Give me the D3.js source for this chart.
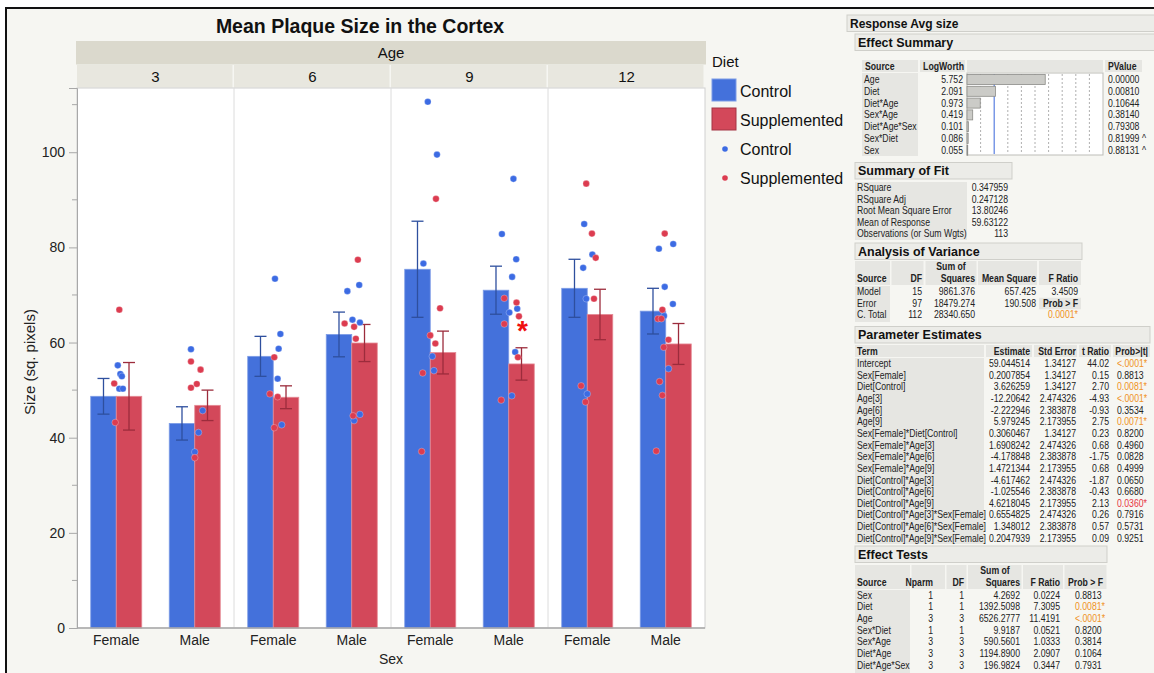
<!DOCTYPE html>
<html>
<head>
<meta charset="utf-8">
<script src="https://cdn.jsdelivr.net/npm/d3@7"></script>
<style>
  body { margin: 0; background: #fff; }
  svg { display: block; font-family: "Liberation Sans", Arial, sans-serif; }
  .tbl { font-family: "Liberation Sans", Arial, sans-serif; font-size: 10.5px; fill: #222; }
</style>
</head>
<body>
<div id="viz-container"></div>
<script>
// ---- chart data ----
let ages = ["3", "6", "9", "12"];
let sexes = ["Female", "Male"];
let diets = ["Control", "Supplemented"];

// group order: 3F, 3M, 6F, 6M, 9F, 9M, 12F, 12M
let controlMeans = [48.7, 43.0, 57.1, 61.7, 75.4, 71.0, 71.4, 66.6];
let controlSE = [3.75, 3.5, 4.2, 4.7, 10.1, 5.05, 6.1, 4.8];
let supplementedMeans = [48.7, 46.8, 48.5, 59.9, 57.9, 55.5, 65.9, 59.7];
let supplementedSE = [7.1, 3.2, 2.4, 3.9, 4.5, 3.4, 5.3, 4.3];

// individual points: [age, sex, value, jitter]
let controlPoints = [
  ["3","Female",55.2,1.5],["3","Female",53.4,4],["3","Female",52.9,5.5],["3","Female",50.3,3],["3","Female",50.3,6.5],
  ["3","Male",58.6,-3.7],["3","Male",45.7,7.7],["3","Male",41.1,3.7],["3","Male",37.0,0],
  ["6","Female",73.4,1.7],["6","Female",61.8,7],["6","Female",58.7,5.3],["6","Female",52.4,4.3],["6","Female",42.7,8.3],
  ["6","Male",72.1,7.3],["6","Male",70.8,-4.3],["6","Male",64.8,0.7],["6","Male",64.2,8],["6","Male",44.9,8],["6","Male",43.6,2.3],
  ["9","Female",110.6,-2.4],["9","Female",99.5,6.6],["9","Female",76.6,-6.7],["9","Female",57.1,2],["9","Female",54.1,3.6],
  ["9","Male",94.4,4.6],["9","Male",82.8,-6.7],["9","Male",77.5,7.3],["9","Male",73.8,3.3],["9","Male",67.1,8.3],["9","Male",66.3,0.6],["9","Male",58.0,6.3],["9","Male",48.8,3],
  ["12","Female",84.9,-3],["12","Female",78.5,5],["12","Female",75.7,-4],["12","Female",69.2,-1],["12","Female",49.2,0],
  ["12","Male",79.7,-6.7],["12","Male",80.7,7.3],["12","Male",71.7,-1],["12","Male",68.1,7],["12","Male",65.6,-1.7],["12","Male",54.5,2.7]
];
let supplementedPoints = [
  ["3","Female",66.9,3],["3","Female",51.4,-2],["3","Female",43.2,-1],
  ["3","Male",56.0,-3.7],["3","Male",54.3,5.7],["3","Male",51.3,2],["3","Male",50.5,-3.7],["3","Male",35.8,0],
  ["6","Female",56.9,1],["6","Female",49.2,-3.3],["6","Female",48.6,4.3],["6","Female",42.1,1],
  ["6","Male",77.4,6],["6","Male",64.0,-7],["6","Male",63.3,2.3],["6","Male",60.8,4],["6","Male",44.6,1.3],
  ["9","Female",90.2,5.6],["9","Female",67.2,9.6],["9","Female",61.5,0],["9","Female",59.8,5],["9","Female",53.6,-7.4],["9","Female",37.1,-8.4],
  ["9","Male",69.3,-4.4],["9","Male",68.4,7.6],["9","Male",65.5,10],["9","Male",63.9,-4.4],["9","Male",56.9,9],["9","Male",47.9,-7.4],
  ["12","Female",93.4,-1],["12","Female",82.9,4.6],["12","Female",77.8,8.3],["12","Female",69.2,6.6],["12","Female",50.9,-6],["12","Female",47.5,-1.7],
  ["12","Male",82.9,-1],["12","Male",66.9,-3.3],["12","Male",65.0,-7.7],["12","Male",65.0,-4.3],["12","Male",60.6,2.7],["12","Male",59.0,-2],["12","Male",51.8,-6],["12","Male",48.9,-3.3],["12","Male",37.2,-9.3]
];
let yTicks = [0, 20, 40, 60, 80, 100];
let yMinorTicks = [10, 30, 50, 70, 90, 110];
// significance mark: [age, sex, diet, value]
let starMark = ["9", "Male", "Supplemented", 62.7];

// ---- report data ----
let effectSources = ["Age", "Diet", "Diet*Age", "Sex*Age", "Diet*Age*Sex", "Sex*Diet", "Sex"];
let logWorth = [5.752, 2.091, 0.973, 0.419, 0.101, 0.086, 0.055];
let effectP = ["0.00000", "0.00810", "0.10644", "0.38140", "0.79308", "0.81999", "0.88131"];
let effectCaret = ["", "", "", "", "", "^", "^"];

let fitLabels = ["RSquare", "RSquare Adj", "Root Mean Square Error", "Mean of Response", "Observations (or Sum Wgts)"];
let fitValues = ["0.347959", "0.247128", "13.80246", "59.63122", "113"];

let anovaSource = ["Model", "Error", "C. Total"];
let anovaDF = ["15", "97", "112"];
let anovaSS = ["9861.376", "18479.274", "28340.650"];
let anovaMS = ["657.425", "190.508", ""];
let anovaF = ["3.4509", "Prob > F", "0.0001*"];

let paramTerms = ["Intercept", "Sex[Female]", "Diet[Control]", "Age[3]", "Age[6]", "Age[9]",
  "Sex[Female]*Diet[Control]", "Sex[Female]*Age[3]", "Sex[Female]*Age[6]", "Sex[Female]*Age[9]",
  "Diet[Control]*Age[3]", "Diet[Control]*Age[6]", "Diet[Control]*Age[9]",
  "Diet[Control]*Age[3]*Sex[Female]", "Diet[Control]*Age[6]*Sex[Female]", "Diet[Control]*Age[9]*Sex[Female]"];
let paramEst = ["59.044514", "0.2007854", "3.626259", "-12.20642", "-2.222946", "5.979245", "0.3060467", "1.6908242",
  "-4.178848", "1.4721344", "-4.617462", "-1.025546", "4.6218045", "0.6554825", "1.348012", "0.2047939"];
let paramSE = ["1.34127", "1.34127", "1.34127", "2.474326", "2.383878", "2.173955", "1.34127", "2.474326",
  "2.383878", "2.173955", "2.474326", "2.383878", "2.173955", "2.474326", "2.383878", "2.173955"];
let paramT = ["44.02", "0.15", "2.70", "-4.93", "-0.93", "2.75", "0.23", "0.68", "-1.75", "0.68", "-1.87", "-0.43", "2.13", "0.26", "0.57", "0.09"];
let paramP = ["<.0001*", "0.8813", "0.0081*", "<.0001*", "0.3534", "0.0071*", "0.8200", "0.4960",
  "0.0828", "0.4999", "0.0650", "0.6680", "0.0360*", "0.7916", "0.5731", "0.9251"];

let testSource = ["Sex", "Diet", "Age", "Sex*Diet", "Sex*Age", "Diet*Age", "Diet*Age*Sex"];
let testNparm = ["1", "1", "3", "1", "3", "3", "3"];
let testDF = ["1", "1", "3", "1", "3", "3", "3"];
let testSS = ["4.2692", "1392.5098", "6526.2777", "9.9187", "590.5601", "1194.8900", "196.9824"];
let testF = ["0.0224", "7.3095", "11.4191", "0.0521", "1.0333", "2.0907", "0.3447"];
let testP = ["0.8813", "0.0081*", "<.0001*", "0.8200", "0.3814", "0.1064", "0.7931"];

// ---- drawing ----
let W = 1154, H = 673;
let blue = "#4471db", red = "#d3485a";
let dotBlue = "#3c6be3", dotRed = "#dc3c50";

let svg = d3.select("#viz-container").append("svg").attr("width", W).attr("height", H);

// frame + background
svg.append("rect").attr("x", 0).attr("y", 0).attr("width", W).attr("height", H).attr("fill", "#fff");
svg.append("rect").attr("x", 6).attr("y", 8).attr("width", W).attr("height", H)
  .attr("fill", "#f6f6f2").attr("stroke", "#111").attr("stroke-width", 2);

let plotL = 77, plotR = 705, plotT = 88, plotB = 628;

let fx = d3.scaleBand().domain(ages).range([plotL, plotR]);
let xs = d3.scaleBand().domain(sexes).range([0, fx.bandwidth()]);
let half = xs.bandwidth() * 0.325;
let xd = d3.scaleBand().domain(diets).range([-half, half]);
let y = d3.scaleLinear().domain([0, 113.5]).range([plotB, plotT]);
let jit = d3.scaleLinear().domain([-10, 10]).range([-xd.bandwidth() * 0.4, xd.bandwidth() * 0.4]);

function groupCenter(age, sex) {
  return fx(age) + xs(sex) + xs.bandwidth() / 2;
}

// title
svg.append("text").attr("x", (plotL + plotR) / 2 - 31).attr("y", 33)
  .attr("text-anchor", "middle").attr("font-size", 19.5).attr("font-weight", "bold").attr("fill", "#111")
  .text("Mean Plaque Size in the Cortex");

// facet headers
svg.append("rect").attr("x", plotL - 1).attr("y", 41).attr("width", plotR - plotL + 2).attr("height", 23.5)
  .attr("fill", "#dbd9cd");
svg.append("text").attr("x", (plotL + plotR) / 2).attr("y", 58).attr("text-anchor", "middle")
  .attr("font-size", 15).attr("fill", "#111").text("Age");
svg.selectAll(".facetCell").data(ages).enter().append("rect")
  .attr("class", "facetCell")
  .attr("x", d => fx(d))
  .attr("y", 64.5)
  .attr("width", fx.bandwidth() - 1.5)
  .attr("height", 23)
  .attr("fill", "#e8e7df");
svg.selectAll(".facetLabel").data(ages).enter().append("text")
  .attr("class", "facetLabel")
  .attr("x", d => fx(d) + fx.bandwidth() / 2)
  .attr("y", 82)
  .attr("text-anchor", "middle").attr("font-size", 15).attr("fill", "#111")
  .text(d => d);

// plot area
svg.append("rect").attr("x", plotL).attr("y", plotT).attr("width", plotR - plotL).attr("height", plotB - plotT)
  .attr("fill", "#fff").attr("stroke", "#d0d0d0");
svg.selectAll(".facetDiv").data(ages.slice(1)).enter().append("line")
  .attr("class", "facetDiv")
  .attr("x1", d => fx(d)).attr("x2", d => fx(d))
  .attr("y1", plotT).attr("y2", plotB)
  .attr("stroke", "#dcdcdc");

// bars
let bars = [];
ages.forEach((a, ai) => sexes.forEach((s, si) => {
  let i = ai * 2 + si;
  bars.push({ age: a, sex: s, diet: "Control", mean: controlMeans[i], se: controlSE[i] });
  bars.push({ age: a, sex: s, diet: "Supplemented", mean: supplementedMeans[i], se: supplementedSE[i] });
}));

svg.selectAll(".bar").data(bars).enter().append("rect")
  .attr("class", "bar")
  .attr("x", d => groupCenter(d.age, d.sex) + xd(d.diet))
  .attr("y", d => y(d.mean))
  .attr("width", xd.bandwidth())
  .attr("height", d => y(0) - y(d.mean))
  .attr("fill", d => d.diet == "Control" ? blue : red)
  .attr("stroke", d => d.diet == "Control" ? "#7d9ce6" : "#e58a95")
  .attr("stroke-width", 0.8);

// error bars
let eb = svg.selectAll(".err").data(bars).enter().append("g").attr("class", "err")
  .attr("stroke", d => d.diet == "Control" ? "#2e4f9e" : "#9c2c3c")
  .attr("stroke-width", 1.3);
let ebX = d => groupCenter(d.age, d.sex) + xd(d.diet) + xd.bandwidth() / 2;
eb.append("line").attr("x1", ebX).attr("x2", ebX)
  .attr("y1", d => y(d.mean + d.se)).attr("y2", d => y(d.mean - d.se));
eb.append("line").attr("x1", d => ebX(d) - 6).attr("x2", d => ebX(d) + 6)
  .attr("y1", d => y(d.mean + d.se)).attr("y2", d => y(d.mean + d.se));
eb.append("line").attr("x1", d => ebX(d) - 6).attr("x2", d => ebX(d) + 6)
  .attr("y1", d => y(d.mean - d.se)).attr("y2", d => y(d.mean - d.se));

// points
function drawPoints(points, color) {
  svg.append("g").selectAll("circle").data(points).enter().append("circle")
    .attr("cx", d => groupCenter(d[0], d[1]) + jit(d[3]))
    .attr("cy", d => y(d[2]))
    .attr("r", 3.3)
    .attr("fill", color)
    .attr("stroke", "rgba(255,255,255,0.45)")
    .attr("stroke-width", 0.6);
}
drawPoints(controlPoints, dotBlue);
drawPoints(supplementedPoints, dotRed);

// significance star
svg.append("text")
  .attr("x", groupCenter(starMark[0], starMark[1]) + xd(starMark[2]) + xd.bandwidth() / 2 + 1)
  .attr("y", y(starMark[3]) + 10)
  .attr("text-anchor", "middle").attr("font-size", 28).attr("font-weight", "bold").attr("fill", "#f01010")
  .text("*");

// y axis
let yAxis = svg.append("g").attr("transform", `translate(${plotL},0)`)
  .call(d3.axisLeft(y).tickValues(yTicks).tickSize(8).tickPadding(4));
yAxis.select(".domain").attr("stroke", "#a8a8a8");
yAxis.selectAll(".tick line").attr("stroke", "#a8a8a8");
yAxis.selectAll(".tick text").attr("font-size", 14).attr("fill", "#222").attr("font-family", "Liberation Sans, Arial, sans-serif");
svg.append("g").selectAll("line").data(yMinorTicks).enter().append("line")
  .attr("x1", plotL - 5).attr("x2", plotL)
  .attr("y1", d => y(d)).attr("y2", d => y(d))
  .attr("stroke", "#a8a8a8");
svg.append("line").attr("x1", plotL).attr("x2", plotR).attr("y1", plotB).attr("y2", plotB)
  .attr("stroke", "#a8a8a8").attr("stroke-width", 1.5);

svg.append("text").attr("transform", `translate(35,${(plotT + plotB) / 2 + 4}) rotate(-90)`)
  .attr("text-anchor", "middle").attr("font-size", 15).attr("fill", "#222")
  .text("Size (sq. pixels)");

// x labels
let xLabels = [];
ages.forEach(a => sexes.forEach(s => xLabels.push({ age: a, sex: s })));
svg.selectAll(".xl").data(xLabels).enter().append("text")
  .attr("class", "xl")
  .attr("x", d => groupCenter(d.age, d.sex))
  .attr("y", 645)
  .attr("text-anchor", "middle").attr("font-size", 14).attr("fill", "#222")
  .text(d => d.sex);
svg.append("text").attr("x", (plotL + plotR) / 2).attr("y", 664).attr("text-anchor", "middle")
  .attr("font-size", 14).attr("fill", "#222").text("Sex");

// legend
let lg = svg.append("g").attr("font-size", 16).attr("fill", "#111");
lg.append("text").attr("x", 712).attr("y", 67).attr("font-size", 15).text("Diet");
diets.forEach((d, i) => {
  lg.append("rect").attr("x", 712).attr("y", 79 + i * 29).attr("width", 24).attr("height", 22)
    .attr("fill", i == 0 ? blue : red).attr("stroke", i == 0 ? "#7d9ce6" : "#a33444");
  lg.append("text").attr("x", 740).attr("y", 97 + i * 29).text(d);
  lg.append("circle").attr("cx", 725).attr("cy", 149 + i * 29).attr("r", 2.8).attr("fill", i == 0 ? dotBlue : dotRed);
  lg.append("text").attr("x", 740).attr("y", 155 + i * 29).text(d);
});

// ---- report panel ----
let rp = svg.append("g");
let cellGray = "#e6e6e2", boxFill = "#ecece8", boxStroke = "#cfcfca";
let orange = "#f0921e", sigRed = "#e8343f";
let narrow = 0.83; // JMP report font is condensed

function sectionBox(x, yTop, w, label, fs) {
  rp.append("rect").attr("x", x).attr("y", yTop).attr("width", w).attr("height", 16.5)
    .attr("fill", boxFill).attr("stroke", boxStroke);
  rp.append("text").attr("x", x + 3).attr("y", yTop + 12.5).attr("font-size", fs || 12.5)
    .attr("font-weight", "bold").attr("fill", "#111").text(label);
}
function cell(x, yTop, w, h) {
  rp.append("rect").attr("x", x).attr("y", yTop).attr("width", w).attr("height", h).attr("fill", cellGray);
}
function txt(x, yb, s, anchor, opts) {
  opts = opts || {};
  return rp.append("text").attr("class", "tbl")
    .attr("transform", `translate(${x},${yb}) scale(${narrow},1)`)
    .attr("text-anchor", anchor || "start")
    .attr("font-weight", opts.bold ? "bold" : null)
    .style("fill", opts.color || null)
    .text(s);
}
function pColor(p) {
  if (p == "0.0360*") return sigRed;
  return p.indexOf("*") >= 0 ? orange : null;
}

sectionBox(847, 15, 310, "Response Avg size", 12);
sectionBox(855, 34, 302, "Effect Summary");

// effect summary table
let esRow = i => 83 + i * 11.8;
cell(862, 60, 56, 12); cell(920, 60, 45, 12); cell(967, 60, 136, 12); cell(1105, 60, 37, 12);
cell(862, 73, 56, 83);
txt(865, 70, "Source", "start", { bold: true });
txt(964, 70, "LogWorth", "end", { bold: true });
txt(1108, 70, "PValue", "start", { bold: true });
let lw = d3.scaleLinear().domain([0, 10]).range([967, 1103]);
rp.append("rect").attr("x", lw(0)).attr("y", 73).attr("width", lw(10) - lw(0)).attr("height", 82)
  .attr("fill", "#fff").attr("stroke", "#bdbdb8");
rp.selectAll(".lwgrid").data(d3.range(1, 10)).enter().append("line")
  .attr("x1", d => lw(d)).attr("x2", d => lw(d)).attr("y1", 74).attr("y2", 154)
  .attr("stroke", d => d == 2 ? "#5a7fe0" : "#9a9a9a")
  .attr("stroke-width", d => d == 2 ? 1.2 : 0.8)
  .attr("stroke-dasharray", d => d == 2 ? null : "2,2");
rp.selectAll(".lwbar").data(logWorth).enter().append("rect")
  .attr("x", lw(0)).attr("y", (d, i) => esRow(i) - 8.5)
  .attr("width", d => lw(d) - lw(0)).attr("height", 10)
  .attr("fill", "#cbcbc7").attr("stroke", "#8c8c88").attr("stroke-width", 0.8);
effectSources.forEach((s, i) => {
  txt(864, esRow(i), s);
  txt(963, esRow(i), logWorth[i].toFixed(3), "end");
  txt(1108, esRow(i), effectP[i]);
  if (effectCaret[i]) txt(1142, esRow(i), effectCaret[i]);
});

// summary of fit
sectionBox(855, 162.5, 157, "Summary of Fit");
cell(855, 182, 112, 58);
fitLabels.forEach((s, i) => {
  txt(857, 191 + i * 11.6, s);
  txt(1008, 191 + i * 11.6, fitValues[i], "end");
});

// analysis of variance
sectionBox(855, 243, 227, "Analysis of Variance");
cell(855, 261, 35, 24); cell(891.5, 261, 32, 24); cell(925.5, 261, 51, 24); cell(978, 261, 59, 24); cell(1039, 261, 42, 24);
cell(855, 286, 35, 36);
txt(951, 270, "Sum of", "middle", { bold: true });
txt(857, 282, "Source", "start", { bold: true });
txt(922, 282, "DF", "end", { bold: true });
txt(975, 282, "Squares", "end", { bold: true });
txt(1036, 282, "Mean Square", "end", { bold: true });
txt(1078, 282, "F Ratio", "end", { bold: true });
anovaSource.forEach((s, i) => {
  let yb = 295 + i * 11.7;
  txt(857, yb, s);
  txt(922, yb, anovaDF[i], "end");
  txt(975, yb, anovaSS[i], "end");
  txt(1036, yb, anovaMS[i], "end");
  if (anovaF[i] == "Prob > F") {
    cell(1039, yb - 9, 42, 11.5);
    txt(1078, yb, anovaF[i], "end", { bold: true });
  } else if (pColor(anovaF[i])) {
    txt(1048, yb, anovaF[i], "start", { color: pColor(anovaF[i]) });
  } else {
    txt(1078, yb, anovaF[i], "end");
  }
});

// parameter estimates
sectionBox(855, 326.5, 295, "Parameter Estimates");
cell(855, 345, 129, 12); cell(986, 345, 46, 12); cell(1034, 345, 43, 12); cell(1079, 345, 32, 12); cell(1113, 345, 37, 12);
cell(855, 358, 129, 186);
txt(857, 355, "Term", "start", { bold: true });
txt(1030, 355, "Estimate", "end", { bold: true });
txt(1076, 355, "Std Error", "end", { bold: true });
txt(1109, 355, "t Ratio", "end", { bold: true });
txt(1148, 355, "Prob>|t|", "end", { bold: true });
paramTerms.forEach((s, i) => {
  let yb = 367 + i * 11.65;
  txt(857, yb, s);
  txt(1030, yb, paramEst[i], "end");
  txt(1076, yb, paramSE[i], "end");
  txt(1109, yb, paramT[i], "end");
  txt(1117, yb, paramP[i], "start", { color: pColor(paramP[i]) });
});

// effect tests
sectionBox(855, 546, 252, "Effect Tests");
cell(855, 565, 55, 24); cell(911.5, 565, 33.5, 24); cell(946.5, 565, 20, 24); cell(968, 565, 53.5, 24); cell(1023, 565, 40, 24); cell(1064.5, 565, 42, 24);
cell(855, 590, 55, 83);
txt(995, 574, "Sum of", "middle", { bold: true });
txt(857, 586, "Source", "start", { bold: true });
txt(933, 586, "Nparm", "end", { bold: true });
txt(964, 586, "DF", "end", { bold: true });
txt(1020, 586, "Squares", "end", { bold: true });
txt(1060, 586, "F Ratio", "end", { bold: true });
txt(1103, 586, "Prob > F", "end", { bold: true });
testSource.forEach((s, i) => {
  let yb = 598.5 + i * 11.67;
  txt(857, yb, s);
  txt(933, yb, testNparm[i], "end");
  txt(964, yb, testDF[i], "end");
  txt(1020, yb, testSS[i], "end");
  txt(1060, yb, testF[i], "end");
  txt(1075, yb, testP[i], "start", { color: pColor(testP[i]) });
});
</script>
</body>
</html>
